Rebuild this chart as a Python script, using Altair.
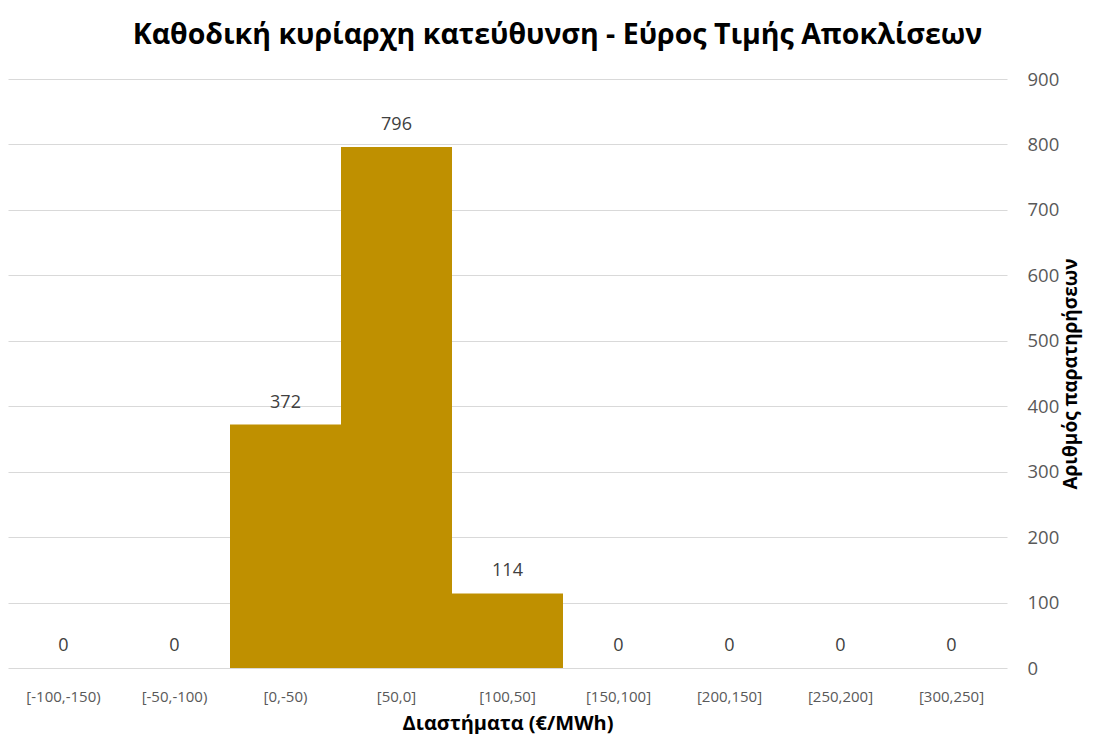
import altair as alt
import pandas as pd

categories = ["[-100,-150)", "[-50,-100)", "[0,-50)", "[50,0]", "[100,50]",
              "[150,100]", "[200,150]", "[250,200]", "[300,250]"]
counts = [0, 0, 372, 796, 114, 0, 0, 0, 0]

df = pd.DataFrame({"cat": categories, "count": counts})

FONT = "Open Sans"

x_enc = alt.X("cat:N", sort=categories, title="Διαστήματα (€/MWh)",
              scale=alt.Scale(paddingInner=0, paddingOuter=0),
              axis=alt.Axis(labelAngle=0, labelFontSize=15, labelColor="#595959",
                            labelFont=FONT, labelPadding=21, ticks=False,
                            domain=False, titleFont=FONT, titleFontSize=20,
                            titleFontWeight="bold", titleColor="#000000",
                            titlePadding=9))
y_enc = alt.Y("count:Q", title="Αριθμός παρατηρήσεων",
              scale=alt.Scale(domain=[0, 900]),
              axis=alt.Axis(orient="right", values=list(range(0, 1000, 100)),
                            labelFontSize=18.5, labelColor="#595959", labelFont=FONT,
                            labelPadding=20, ticks=False, domain=False,
                            gridColor="#d9d9d9", gridWidth=1.2,
                            titleFont=FONT, titleFontSize=19, titleFontWeight="bold",
                            titleColor="#000000", titleAngle=270, titlePadding=22))

base = alt.Chart(df)
bars = base.mark_bar(color="#BF9000").encode(x=x_enc, y=y_enc)
labels = base.mark_text(dy=-22, fontSize=18, color="#404040", font=FONT,
                        baseline="middle").encode(
    x=alt.X("cat:N", sort=categories), y=alt.Y("count:Q"), text=alt.Text("count:Q"))

chart = (bars + labels).properties(
    width=999, height=589,
    autosize=alt.AutoSizeParams(type="none"),
    padding={"left": 0, "top": 71, "right": 78, "bottom": 66},
    title=alt.TitleParams("Καθοδική κυρίαρχη κατεύθυνση - Εύρος  Τιμής Αποκλίσεων",
                          fontSize=28.5, font=FONT, fontWeight="bold", color="#000000",
                          anchor="middle", dx=50, offset=21),
).configure_view(stroke=None)

chart.save("out.html", embed_options={"renderer": "svg", "actions": False})
